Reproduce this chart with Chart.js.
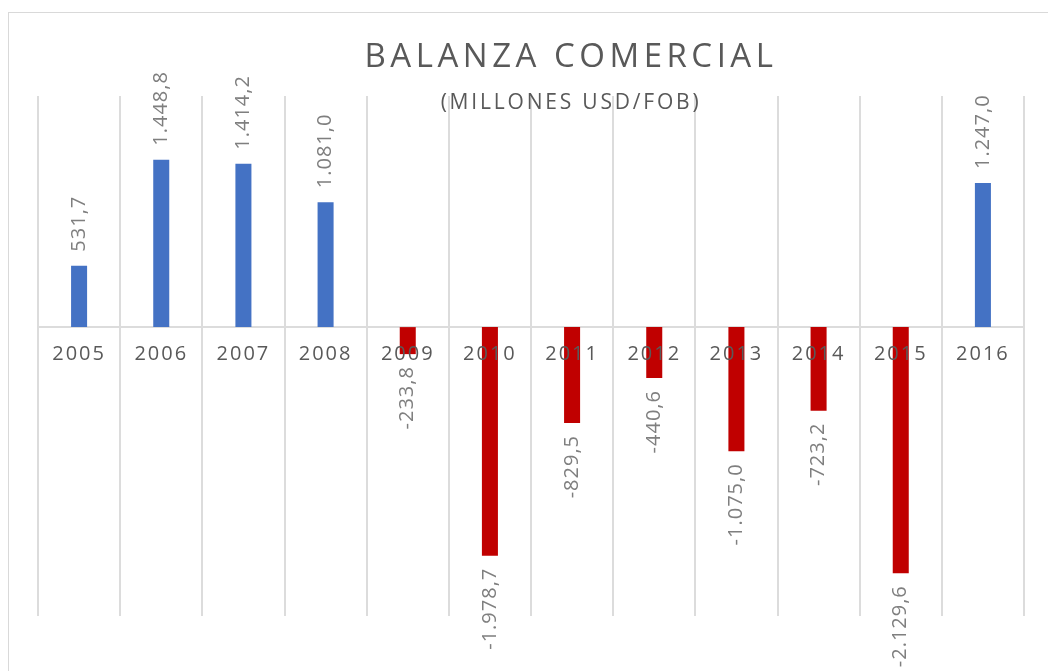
<!DOCTYPE html>
<html lang="es">
<head>
<meta charset="utf-8">
<title>Balanza comercial</title>
<script src="https://cdn.jsdelivr.net/npm/chart.js@4.4.1/dist/chart.umd.min.js"></script>
<style>
  html, body { margin: 0; padding: 0; background: #fff; }
  #wrap { position: relative; width: 1048px; height: 671px; overflow: hidden; }
  #frame { position: absolute; left: 8px; top: 12px; width: 1200px; height: 800px; border: 1px solid #d9d9d9; box-sizing: border-box; }
  #chart-box { position: absolute; left: 0; top: 0; width: 1048px; height: 671px; }
  .ttl { position: absolute; left: 571px; transform: translateX(-50%); white-space: nowrap;
         font-family: "Open Sans", sans-serif; color: #595959; line-height: 1; }
  #title { top: 38px; font-size: 33px; letter-spacing: 4.5px; }
  #subtitle { top: 91px; font-size: 21px; letter-spacing: 2.8px; }
</style>
</head>
<body>
<div id="wrap">
  <div id="frame"></div>
  <div id="chart-box"><canvas id="chart"></canvas></div>
  <div id="title" class="ttl">BALANZA COMERCIAL</div>
  <div id="subtitle" class="ttl">(MILLONES USD/FOB)</div>
</div>
<script>
  /* datos: balanza comercial, millones USD/FOB */
  var years = ['2005', '2006', '2007', '2008', '2009', '2010', '2011', '2012', '2013', '2014', '2015', '2016'];
  var balanza = [531.7, 1448.8, 1414.2, 1081.0, -233.8, -1978.7, -829.5, -440.6, -1075.0, -723.2, -2129.6, 1247.0];
  var yMin = -2500, yMax = 2000;
  var colorPos = '#4472c4', colorNeg = '#c00000';

  /* formato es: 1.448,8 */
  function fmt(v) {
    var s = Math.abs(v).toFixed(1).split('.');
    var ent = s[0].replace(/\B(?=(\d{3})+(?!\d))/g, '.');
    return (v < 0 ? '-' : '') + ent + ',' + s[1];
  }

  /* etiquetas de valor, giradas 90° */
  var barLabels = {
    id: 'barLabels',
    afterDatasetsDraw: function (ch) {
      var ctx = ch.ctx, meta = ch.getDatasetMeta(0);
      ctx.save();
      ctx.font = '20px "Open Sans"';
      ctx.fillStyle = '#7f7f7f';
      ctx.letterSpacing = '1px';
      ctx.textBaseline = 'middle';
      meta.data.forEach(function (bar, i) {
        var v = balanza[i];
        ctx.save();
        ctx.translate(bar.x, v >= 0 ? bar.y - 14 : bar.y + 12);
        ctx.rotate(-Math.PI / 2);
        ctx.textAlign = v >= 0 ? 'left' : 'right';
        ctx.fillText(fmt(v), 0, 0);
        ctx.restore();
      });
      ctx.restore();
    }
  };

  /* espaciado de letras en los años del eje */
  var tickSpacing = {
    id: 'tickSpacing',
    beforeDraw: function (ch) { ch.ctx.letterSpacing = '2px'; },
    afterDraw: function (ch) { ch.ctx.letterSpacing = '0px'; }
  };

  new Chart(document.getElementById('chart').getContext('2d'), {
    type: 'bar',
    data: {
      labels: years,
      datasets: [{
        data: balanza,
        backgroundColor: balanza.map(function (v) { return v >= 0 ? colorPos : colorNeg; }),
        barPercentage: 0.195,
        categoryPercentage: 1
      }]
    },
    options: {
      responsive: true, maintainAspectRatio: false, animation: false,
      layout: { padding: { left: 38, right: 24, top: 96, bottom: 55 } },
      plugins: { legend: { display: false }, tooltip: { enabled: false }, title: { display: false } },
      scales: {
        x: {
          position: { y: 0 },
          grid: { color: '#dcdcdc', lineWidth: 2, drawTicks: false, offset: true },
          border: { color: '#dcdcdc', width: 2 },
          ticks: { z: 1, color: '#595959', font: { family: 'Open Sans', size: 20 }, padding: 15, maxRotation: 0, autoSkip: false }
        },
        y: { display: false, min: yMin, max: yMax, grid: { display: false } }
      }
    },
    plugins: [barLabels, tickSpacing]
  });
</script>
</body>
</html>
